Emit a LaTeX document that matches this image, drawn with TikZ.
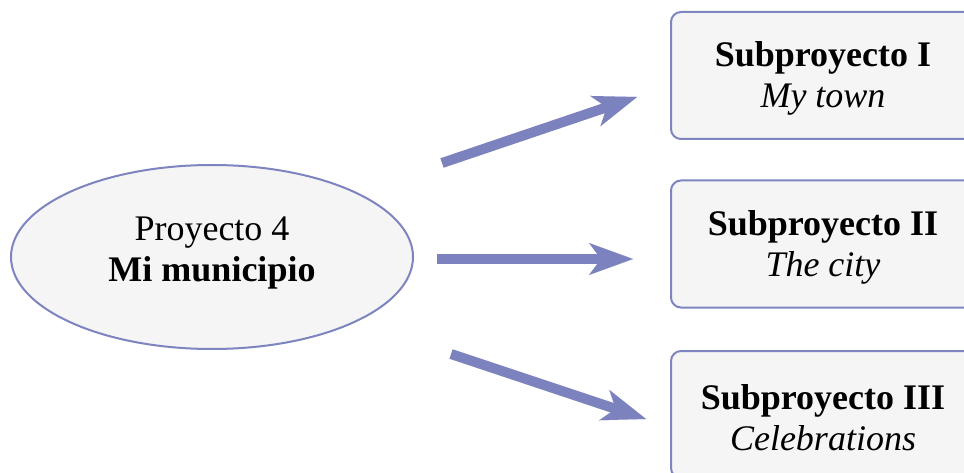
\documentclass[tikz,border=0pt]{standalone}
\usepackage{fontspec}
\setmainfont{Liberation Serif}
\usetikzlibrary{arrows.meta,shapes.geometric}
\definecolor{edgeblue}{HTML}{7E84BF}
\definecolor{arrowblue}{HTML}{7C82BE}
\definecolor{boxfill}{HTML}{F5F5F5}
\tikzset{
  bigtext/.style={font=\fontsize{36}{41}\selectfont, align=center, inner sep=0pt},
  mainellipse/.style={ellipse, draw=edgeblue, fill=boxfill, line width=2pt,
    minimum width=402pt, minimum height=184pt, inner sep=0pt},
  subbox/.style={rectangle, rounded corners=10pt, draw=edgeblue, fill=boxfill,
    line width=2pt, minimum width=304pt, minimum height=127pt, inner sep=0pt},
  bigarrow/.style={draw=arrowblue, line width=10pt,
    -{Stealth[length=44pt, width=32pt, inset=12pt, line width=0.01pt, fill=arrowblue]}}
}
\begin{document}
\begin{tikzpicture}[x=1pt,y=-1pt]
\useasboundingbox (0,0) rectangle (964,473);
\node[mainellipse] (proj) at (212,257) {};
\node[subbox] (s1) at (823,75.5) {};
\node[subbox] (s2) at (823,244) {};
\node[subbox] (s3) at (823,414.5) {};
\node[bigtext] (projt) at ([yshift=4pt]proj.center) {Proyecto 4\\\textbf{Mi municipio}};
\node[bigtext] (s1t) at ([yshift=-3pt]s1.center) {\textbf{Subproyecto I}\\\textit{My town}};
\node[bigtext] (s2t) at ([yshift=-3pt]s2.center) {\textbf{Subproyecto II}\\\textit{The city}};
\node[bigtext] (s3t) at ([yshift=-3pt]s3.center) {\textbf{Subproyecto III}\\\textit{Celebrations}};
\coordinate (a1s) at (442,163);
\coordinate (a1e) at (637,97);
\coordinate (a2s) at (437,259);
\coordinate (a2e) at (633,259);
\coordinate (a3s) at (451,354);
\coordinate (a3e) at (646,419);
\draw[bigarrow] (a1s) -- (a1e);
\draw[bigarrow] (a2s) -- (a2e);
\draw[bigarrow] (a3s) -- (a3e);
\end{tikzpicture}
\end{document}
